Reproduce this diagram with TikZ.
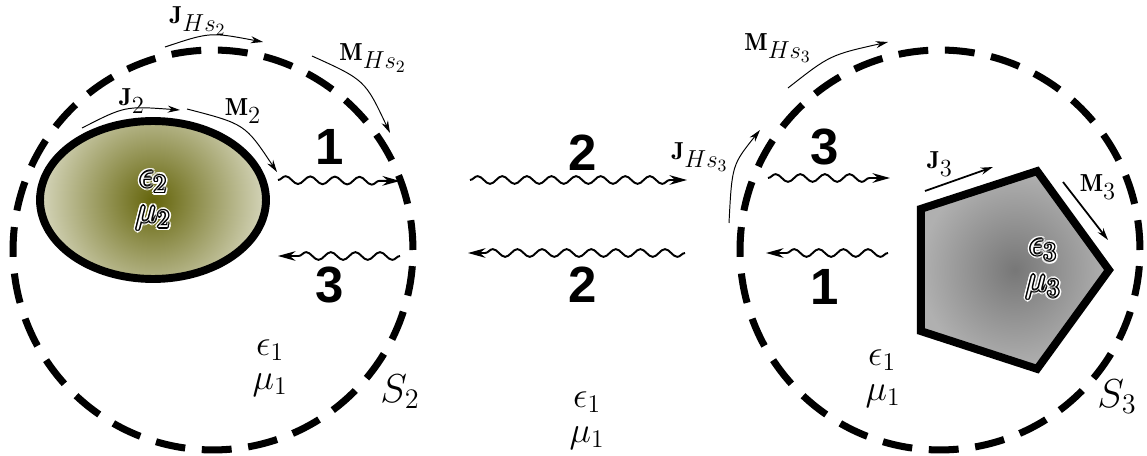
\RequirePackage{fix-cm}
\documentclass[tikz,border=0pt]{standalone}
\usepackage{amsmath,amssymb}
\usepackage{fontspec}
\newfontfamily\numfont{Liberation Sans}
\usepackage{tikz}
\usetikzlibrary{arrows.meta,calc,shapes.geometric,decorations.pathmorphing}
\definecolor{OliveDark}{HTML}{64640A}
\definecolor{OliveLight}{HTML}{DADAC2}
\definecolor{GrayDark}{HTML}{777777}
\definecolor{GrayLight}{HTML}{B0B0B0}

% white symbol with black rim and white halo
\newcommand{\halolabel}[3]{%
  \foreach \ang in {0,30,...,330}
    \node[medlabel,text=white] at ($(#1)+(\ang:3)$) {#3};
  \foreach \ang in {0,45,...,315}
    \node[medlabel,text=black] at ($(#1)+(\ang:1.4)$) {#3};
  \node[medlabel,text=white] (#2) at (#1) {#3};}

\begin{document}
\begin{tikzpicture}[x=0.02cm,y=-0.02cm,>={Stealth[length=7pt,width=4pt]}]
\tikzstyle{surface}=[circle,draw,line width=4pt,dash pattern=on 17pt off 9.5pt,minimum size=8cm,inner sep=0pt]
\tikzstyle{body}=[draw,line width=4.5pt,inner sep=0pt]
\tikzstyle{cur}=[font=\fontsize{14}{16}\selectfont,inner sep=1pt]
\tikzstyle{thin}=[->,line width=0.55pt]
\tikzstyle{medlabel}=[font=\fontsize{20.7}{23}\selectfont,inner sep=1pt]
\tikzstyle{surflabel}=[font=\fontsize{23}{25}\selectfont,inner sep=1pt]
\tikzstyle{pathnum}=[font=\numfont\bfseries\fontsize{29}{30}\selectfont,inner sep=1pt]
\tikzstyle{wave}=[-{Stealth[length=10pt,width=5.5pt]},line width=1.1pt,decorate,decoration={snake,amplitude=2.2pt,segment length=14pt,post length=8pt}]
\useasboundingbox (0,0) rectangle (1147,456);

% scatterer 2
\begin{scope}
\clip (153,200) ellipse (113 and 79);
\shade[inner color=OliveDark,outer color=OliveLight] (153,200) circle (118);
\end{scope}
\node[body,ellipse,minimum width=4.52cm,minimum height=3.16cm] (scat2) at (153,200) {};
\halolabel{153,182}{eps2}{$\epsilon_2$}
\halolabel{153,218}{mu2}{$\mu_2$}

% scatterer 3
\node[body,regular polygon,regular polygon sides=5,rotate=-90,minimum size=4.16cm,inner color=GrayDark,outer color=GrayLight] (scat3) at (1005,270) {};
\halolabel{1043,250}{eps3}{$\epsilon_3$}
\halolabel{1043,287}{mu3}{$\mu_3$}

% Huygens surfaces
\node[surface] (surf2) at (213,250) {};
\node[surface] (surf3) at (940,250) {};
\node[surflabel] (s2) at (400,392) {$S_2$};
\node[surflabel] (s3) at (1117,397) {$S_3$};

% currents
\coordinate (j2s) at (82,128);
\coordinate (j2e) at (180,110);
\coordinate (m2s) at (187,109);
\coordinate (m2e) at (277,172);
\coordinate (jh2s) at (165,47);
\coordinate (jh2e) at (263,42);
\coordinate (mh2s) at (312,56);
\coordinate (mh2e) at (390,133);
\coordinate (jh3s) at (729,223);
\coordinate (jh3e) at (760,130);
\coordinate (mh3s) at (788,88);
\coordinate (mh3e) at (888,42);
\coordinate (j3s) at (925,191);
\coordinate (j3e) at (993,167);
\coordinate (m3s) at (1063,182);
\coordinate (m3e) at (1108,240);
\draw[thin] (j2s) .. controls (125,106) .. (j2e);
\draw[thin] (m2s) .. controls (245,124) .. (m2e);
\draw[thin] (jh2s) .. controls (210,32) .. (jh2e);
\draw[thin] (mh2s) .. controls (365,80) .. (mh2e);
\draw[thin] (jh3s) .. controls (732,165) .. (jh3e);
\draw[thin] (mh3s) .. controls (830,55) .. (mh3e);
\draw[->,line width=1pt] (j3s) -- (j3e);
\draw[->,line width=1pt] (m3s) -- (m3e);
\node[cur] (lj2) at (132,101) {$\mathbf{J}_{\textstyle 2}$};
\node[cur] (lm2) at (243,111) {$\mathbf{M}_{\textstyle 2}$};
\node[cur] (ljh2) at (198,21) {$\mathbf{J}_{\textstyle Hs_2}$};
\node[cur] (lmh2) at (373,58) {$\mathbf{M}_{\textstyle Hs_2}$};
\node[cur] (ljh3) at (700,157) {$\mathbf{J}_{\textstyle Hs_3}$};
\node[cur] (lmh3) at (778,48) {$\mathbf{M}_{\textstyle Hs_3}$};
\node[cur] (lj3) at (940,164) {$\mathbf{J}_{\textstyle 3}$};
\node[cur] (lm3) at (1098,187) {$\mathbf{M}_{\textstyle 3}$};

% waves
\coordinate (w1a) at (278,180);
\coordinate (w1b) at (400,181);
\coordinate (w3a) at (400,256);
\coordinate (w3b) at (278,256);
\coordinate (w2a) at (470,180);
\coordinate (w2b) at (687,180);
\coordinate (w2c) at (685,253);
\coordinate (w2d) at (468,253);
\coordinate (w3c) at (768,178);
\coordinate (w3d) at (890,178);
\coordinate (w1c) at (888,253);
\coordinate (w1d) at (766,253);
\draw[wave] (w1a) -- (w1b);
\draw[wave] (w3a) -- (w3b);
\draw[wave] (w2a) -- (w2b);
\draw[wave] (w2c) -- (w2d);
\draw[wave] (w3c) -- (w3d);
\draw[wave] (w1c) -- (w1d);
\node[pathnum] (n1l) at (330,147) {1};
\node[pathnum] (n3l) at (330,285) {3};
\node[pathnum] (n2t) at (583,153) {2};
\node[pathnum] (n2b) at (583,285) {2};
\node[pathnum] (n3r) at (825,147) {3};
\node[pathnum] (n1r) at (825,287) {1};

% background medium
\node[medlabel] (eps1l) at (270,350) {$\epsilon_1$};
\node[medlabel] (mu1l) at (270,385) {$\mu_1$};
\node[medlabel] (eps1m) at (587,402) {$\epsilon_1$};
\node[medlabel] (mu1m) at (587,438) {$\mu_1$};
\node[medlabel] (eps1r) at (882,360) {$\epsilon_1$};
\node[medlabel] (mu1r) at (883,396) {$\mu_1$};
\end{tikzpicture}
\end{document}
